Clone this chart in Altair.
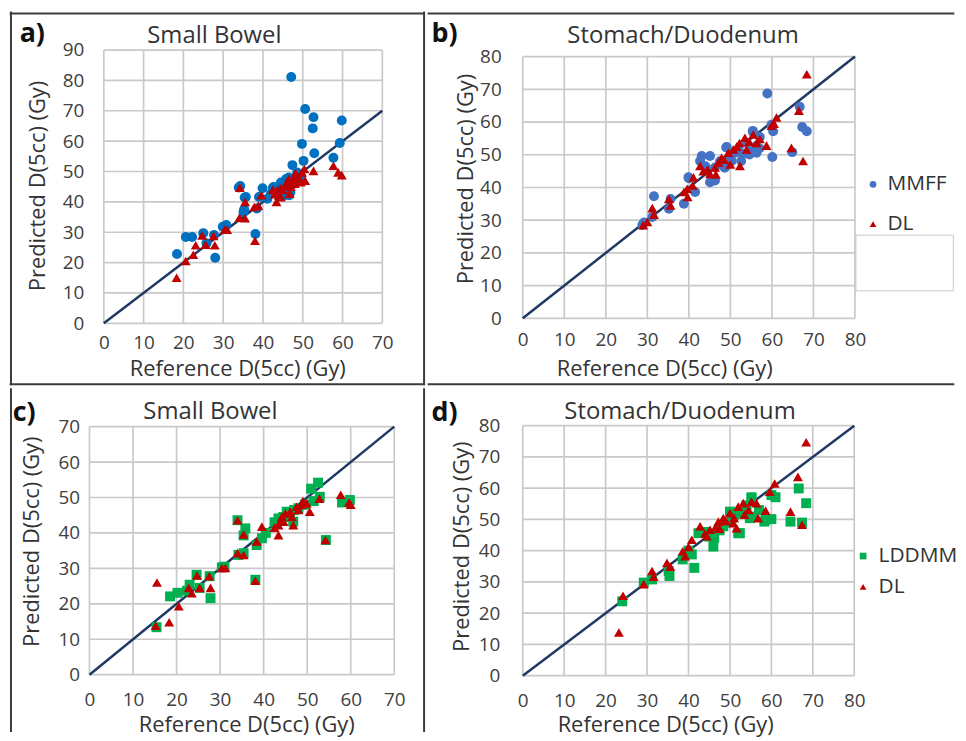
import altair as alt
import pandas as pd

# ---------------- data ----------------
a_mmff_ref = [47.1, 50.6, 52.7, 52.5, 59.8, 49.8, 59.3, 52.9, 57.7, 50.2, 47.4, 39.9, 34.3, 35.7, 35.3, 39.0,
              38.5, 42.8, 46.9, 38.1, 30.8, 29.9, 25.0, 22.2, 20.6, 27.7, 28.0, 18.4, 25.8, 44.5, 45.8, 46.5,
              48.6, 47.0, 42.0, 41.1, 45.3, 48.0, 44.0, 46.0, 49.5, 43.5, 42.5, 43.0, 35.4, 35.1, 33.9, 46.6]
a_mmff_pred = [81.1, 70.6, 67.9, 64.2, 66.8, 59.1, 59.4, 56.0, 54.5, 53.5, 52.1, 44.5, 45.2, 41.6, 37.6, 41.6,
               37.8, 44.9, 43.2, 29.4, 32.4, 31.8, 29.7, 28.4, 28.4, 29.1, 21.6, 22.8, 26.4, 46.4, 47.5, 48.0,
               49.7, 47.0, 42.7, 41.0, 42.1, 46.0, 44.0, 45.5, 48.5, 43.0, 44.7, 43.0, 41.4, 36.7, 44.7, 42.2]
a_dl_ref = [18.3, 20.6, 22.5, 23.1, 24.7, 25.6, 27.6, 27.9, 30.4, 31.0, 34.2, 35.5, 34.1, 35.5, 37.8, 38.8,
            39.6, 38.0, 43.4, 43.6, 44.4, 45.7, 46.7, 47.7, 49.0, 49.8, 50.6, 50.4, 52.7, 57.7, 58.9, 59.8,
            44.0, 45.0, 46.0, 47.0, 48.0, 48.5, 44.5, 43.0, 49.5, 46.5, 42.5, 48.2]
a_dl_pred = [15.0, 20.5, 22.6, 25.7, 28.9, 25.9, 28.8, 25.7, 30.8, 30.8, 44.7, 40.0, 34.8, 34.6, 38.3, 38.7,
             42.2, 27.2, 40.0, 43.8, 44.5, 45.4, 42.7, 47.5, 48.1, 49.7, 47.0, 50.8, 50.2, 51.9, 49.7, 48.8,
             42.0, 44.0, 46.5, 45.0, 46.0, 48.5, 41.5, 42.5, 46.5, 47.5, 44.0, 49.5]

b_mmff_ref = [58.9, 66.7, 67.3, 68.4, 64.9, 60.1, 60.3, 59.9, 57.1, 55.4, 56.3, 55.1, 49.1, 51.1, 48.7, 45.1,
              43.1, 42.7, 46.3, 45.1, 46.3, 40.0, 41.5, 38.8, 35.6, 35.2, 31.6, 31.2, 29.2, 28.8, 50.3, 49.0,
              53.0, 52.6, 55.4, 56.2, 54.6, 48.6, 39.9, 44.0, 47.5, 52.0, 50.0, 54.0, 57.0]
b_mmff_pred = [68.7, 64.7, 58.5, 57.2, 50.8, 49.3, 57.2, 59.2, 55.4, 57.0, 50.6, 51.1, 52.4, 50.6, 46.1, 49.6,
               49.6, 48.1, 46.1, 41.6, 42.1, 42.8, 38.6, 35.0, 36.5, 33.5, 37.3, 31.0, 29.3, 28.5, 48.1, 52.2,
               50.2, 48.1, 57.3, 52.7, 50.1, 46.1, 43.1, 46.5, 48.0, 51.5, 49.5, 53.5, 52.0]
b_dl_ref = [68.4, 66.5, 67.5, 64.7, 61.1, 59.9, 58.7, 57.1, 55.5, 53.5, 52.2, 52.3, 50.7, 49.5, 47.9, 47.1,
            46.3, 45.1, 42.7, 41.1, 40.9, 39.6, 38.8, 39.7, 35.2, 35.6, 31.2, 31.6, 30.0, 29.0, 56.3, 53.9,
            44.5, 46.5, 48.5, 51.5, 54.5, 50.0, 60.5, 43.5]
b_dl_pred = [74.6, 63.5, 48.1, 52.1, 61.4, 58.9, 52.8, 54.8, 56.2, 55.2, 53.6, 46.6, 51.6, 50.6, 49.1, 47.6,
             46.1, 44.1, 46.6, 43.1, 40.6, 39.6, 38.6, 37.1, 36.5, 34.5, 33.7, 31.7, 29.5, 28.5, 53.6, 51.6,
             45.5, 44.0, 48.5, 52.5, 54.0, 47.0, 59.5, 45.0]

c_lddmm_ref = [52.5, 50.9, 52.9, 59.8, 58.0, 34.0, 35.8, 35.4, 54.3, 46.8, 43.4, 45.3, 39.6, 38.4, 35.4, 34.2,
               30.4, 24.6, 23.0, 22.4, 20.2, 18.5, 27.8, 27.6, 38.1, 15.4, 25.3, 48.0, 49.5, 44.5, 47.0, 51.5,
               42.5, 46.0, 40.5, 31.0]
c_lddmm_pred = [54.2, 52.5, 50.2, 49.3, 48.6, 43.6, 41.3, 39.3, 38.0, 43.2, 44.1, 46.0, 38.5, 36.6, 34.3, 33.8,
                30.3, 28.2, 25.4, 23.7, 23.1, 22.1, 21.6, 27.8, 26.8, 13.4, 24.5, 47.0, 48.0, 44.5, 46.5, 49.0,
                43.0, 45.0, 40.0, 30.5]
c_dl_ref = [15.5, 18.3, 15.2, 20.5, 22.8, 25.3, 27.8, 27.5, 24.7, 30.4, 31.2, 34.0, 35.4, 34.0, 35.4, 38.1,
            38.4, 39.6, 43.4, 43.4, 44.6, 46.8, 46.1, 47.6, 48.7, 49.9, 50.6, 52.8, 57.7, 59.6, 60.0, 54.2,
            44.2, 45.0, 46.5, 48.0, 42.5, 49.0, 44.0, 23.5]
c_dl_pred = [26.0, 14.8, 13.8, 19.3, 24.5, 24.5, 24.5, 27.8, 28.0, 30.1, 30.1, 34.3, 33.8, 43.6, 39.6, 26.5,
             37.6, 41.8, 39.4, 42.2, 43.2, 42.2, 46.0, 47.4, 47.9, 48.3, 46.0, 49.7, 50.8, 48.6, 48.0, 38.0,
             44.6, 45.5, 44.5, 46.5, 41.5, 49.0, 43.5, 23.0]

d_lddmm_ref = [66.6, 68.4, 67.4, 64.6, 61.0, 60.0, 60.0, 58.6, 55.2, 54.8, 52.4, 50.0, 48.4, 46.2, 42.4, 41.4,
               40.8, 38.6, 35.4, 35.2, 31.2, 29.2, 24.0, 46.0, 52.0, 55.6, 58.3, 55.2, 51.0, 49.0, 44.0, 47.5,
               53.0, 57.0, 40.0, 50.5, 45.0, 54.0]
d_lddmm_pred = [59.9, 55.2, 49.0, 49.3, 57.1, 57.8, 50.1, 49.9, 57.1, 50.4, 45.6, 52.5, 47.8, 44.1, 45.6, 34.5,
                38.8, 37.2, 31.9, 33.5, 30.8, 29.8, 23.8, 41.3, 45.6, 50.9, 49.3, 56.7, 51.5, 49.0, 46.0, 46.5,
                52.0, 53.0, 40.0, 50.5, 44.5, 54.5]
d_dl_ref = [68.4, 66.4, 67.4, 64.6, 60.8, 59.6, 58.6, 56.8, 56.4, 55.2, 53.2, 52.0, 51.6, 50.0, 48.4, 47.2,
            45.2, 42.8, 44.4, 40.8, 40.0, 38.6, 39.2, 34.8, 35.6, 31.2, 31.6, 29.2, 24.2, 23.2, 50.8, 46.5,
            49.0, 53.5, 44.0, 47.5, 51.0, 54.5]
d_dl_pred = [74.7, 63.6, 48.3, 52.5, 61.5, 58.9, 52.8, 50.4, 55.2, 55.7, 55.2, 54.1, 47.2, 52.0, 50.4, 49.3,
             46.7, 47.8, 44.6, 43.5, 41.2, 39.8, 38.2, 36.1, 34.9, 33.5, 31.7, 29.3, 25.6, 13.8, 48.8, 47.5,
             49.5, 51.5, 45.5, 47.0, 50.5, 53.0]

panel_labels = ["a)", "b)", "c)", "d)"]
panel_titles = ["Small Bowel", "Stomach/Duodenum", "Small Bowel", "Stomach/Duodenum"]
x_title = "Reference D(5cc) (Gy)"
y_title = "Predicted D(5cc) (Gy)"

# ---------------- styling ----------------
FONT = "Open Sans"
GRID = "#c9c9c9"
DIAG = "#1f3864"
BORDER = "#3c3c3c"
LABEL_C = "#404040"
TEXT_C = "#333333"


def one_row():
    return alt.Data(values=[{"k": 0}])


def panel(series, names, colors, shapes, xmax, ymax, vw, vh, xr, yr, bnd, rules, lab_pos, title_pos,
          xt, yt, xlp, ylp, legend=None, box=None, label=None, title=None):
    rows = []
    for (refs, preds), nm in zip(series, names):
        for r, p in zip(refs, preds):
            rows.append({"ref": r, "pred": p, "method": nm})
    df = pd.DataFrame(rows)

    xs = alt.Scale(domain=[0, xmax], range=list(xr), nice=False)
    ys = alt.Scale(domain=[0, ymax], range=list(yr), nice=False)
    common = dict(grid=False, domain=False, ticks=False, tickSize=0,
                  labelFont=FONT, labelFontSize=19, labelColor=LABEL_C, labelFlush=False,
                  labelOverlap=False, titleFont=FONT, titleFontSize=22, titleFontWeight="normal",
                  titleColor=TEXT_C, titleAlign="center", titleBaseline="middle")
    xticks = list(range(0, xmax + 1, 10))
    yticks = list(range(0, ymax + 1, 10))
    xaxis = alt.Axis(values=xticks, title=x_title, labelPadding=xlp,
                     titleX=xt[0], titleY=xt[1], titleAngle=0, **common)
    yaxis = alt.Axis(values=yticks, title=y_title, labelPadding=ylp,
                     titleX=yt[0], titleY=yt[1], titleAngle=270, **common)
    X = alt.X("ref:Q", scale=xs, axis=xaxis)
    Y = alt.Y("pred:Q", scale=ys, axis=yaxis)

    layers = []
    # invisible panel bounds
    layers.append(alt.Chart(one_row()).mark_rect(opacity=0, strokeWidth=0).encode(
        x=alt.value(bnd[0]), x2=alt.value(bnd[1]), y=alt.value(bnd[2]), y2=alt.value(bnd[3])))
    # frame lines
    for (x1, x2, y1, y2) in rules:
        layers.append(alt.Chart(one_row()).mark_rule(color=BORDER, strokeWidth=2).encode(
            x=alt.value(x1), x2=alt.value(x2), y=alt.value(y1), y2=alt.value(y2)))
    # gridlines (through the scales)
    vgrid = pd.DataFrame({"ref": xticks, "pred": [0] * len(xticks), "pred2": [ymax] * len(xticks)})
    hgrid = pd.DataFrame({"pred": yticks, "ref": [0] * len(yticks), "ref2": [xmax] * len(yticks)})
    layers.append(alt.Chart(vgrid).mark_rule(color=GRID, strokeWidth=1.7).encode(
        x=X, y=Y, y2="pred2:Q"))
    layers.append(alt.Chart(hgrid).mark_rule(color=GRID, strokeWidth=1.7).encode(
        x=X, x2="ref2:Q", y=Y))
    # identity line
    m = min(xmax, ymax)
    layers.append(alt.Chart(pd.DataFrame({"ref": [0, m], "pred": [0, m]})).mark_line(
        color=DIAG, strokeWidth=2.5).encode(x=X, y=Y))
    # points
    leg = None
    if legend is not None:
        leg = alt.Legend(orient="none", legendX=legend[0], legendY=legend[1], title=None,
                         labelFont=FONT, labelFontSize=21, labelColor=TEXT_C, labelOffset=legend[2],
                         rowPadding=legend[3], symbolSize=45, symbolStrokeWidth=0, padding=0, offset=0)
    layers.append(alt.Chart(df).mark_point(filled=True, opacity=1, size=100, strokeWidth=0).encode(
        x=X, y=Y,
        color=alt.Color("method:N", scale=alt.Scale(domain=names, range=colors), legend=leg),
        shape=alt.Shape("method:N", scale=alt.Scale(domain=names, range=shapes), legend=leg)))
    if box is not None:
        layers.append(alt.Chart(one_row()).mark_rect(fill="white", stroke="#c8c8c8", strokeWidth=1).encode(
            x=alt.value(box[0]), x2=alt.value(box[1]), y=alt.value(box[2]), y2=alt.value(box[3])))
    # panel label and title
    layers.append(alt.Chart(one_row()).mark_text(
        text=label, font=FONT, fontSize=27, fontWeight="bold", color="#111111",
        align="left", baseline="alphabetic").encode(x=alt.value(lab_pos[0]), y=alt.value(lab_pos[1])))
    layers.append(alt.Chart(one_row()).mark_text(
        text=title, font=FONT, fontSize=24, color=TEXT_C, align="center", baseline="middle").encode(
        x=alt.value(title_pos[0]), y=alt.value(title_pos[1])))

    return alt.layer(*layers).properties(width=vw, height=vh)


# view origins: column 1 x=88.3, column 2 x=521.7 ; row 1 y=46.7, row 2 y=421.7
pa = panel([(a_mmff_ref, a_mmff_pred), (a_dl_ref, a_dl_pred)], ["MMFF", "DL"], ["#0070c0", "#c00000"],
           ["circle", "triangle-up"], 70, 90, 294.7, 275, (14.4, 294.7), (275, 0),
           bnd=(-80.3, 337.7, -38.7, 337.3),
           rules=[(-80.3, 337.7, -36.7, -36.7), (-79.0, -79.0, -38.7, 337.3),
                  (336.7, 336.7, -38.7, 337.3), (-80.3, 337.7, 336.3, 336.3)],
           lab_pos=(-70.3, -7.7), title_pos=(125.7, -13.7), xt=(148.7, 45.3), yt=(-52.3, 136.3),
           xlp=10, ylp=5.6, label=panel_labels[0], title=panel_titles[0])

pb = panel([(b_mmff_ref, b_mmff_pred), (b_dl_ref, b_dl_pred)], ["MMFF", "DL"], ["#4472c4", "#c00000"],
           ["circle", "triangle-up"], 80, 80, 334.3, 270, (0, 334.3), (270, 6.6),
           bnd=(-95.7, 434.3, -38.7, 337.3),
           rules=[(-95.7, 434.3, -36.7, -36.7), (-95.7, 434.3, 336.3, 336.3)],
           lab_pos=(-91.7, -7.7), title_pos=(161.3, -13.7), xt=(142.3, 50.3), yt=(-57.2, 129.3),
           xlp=12, ylp=21.7, legend=(342, 124.7, 4, 18), box=(335.3, 433.3, 186.3, 242.3),
           label=panel_labels[1], title=panel_titles[1])

pc = panel([(c_lddmm_ref, c_lddmm_pred), (c_dl_ref, c_dl_pred)], ["LDDMM", "DL"], ["#00b050", "#c00000"],
           ["square", "triangle-up"], 70, 70, 306.7, 250.6, (0, 306.7), (250.6, 1.0),
           bnd=(-80.3, 337.7, -37.7, 308.3),
           rules=[(-79.0, -79.0, -37.7, 308.3), (336.7, 336.7, -37.7, 308.3)],
           lab_pos=(-77.3, -4.7), title_pos=(121.7, -14.2), xt=(157.7, 50.0), yt=(-58.3, 116.3),
           xlp=16.5, ylp=10, label=panel_labels[2], title=panel_titles[2])

pd_ = panel([(d_lddmm_ref, d_lddmm_pred), (d_dl_ref, d_dl_pred)], ["LDDMM", "DL"], ["#00b050", "#c00000"],
            ["square", "triangle-up"], 80, 80, 333.6, 251.6, (0, 333.6), (251.6, 0),
            bnd=(-95.7, 434.3, -37.7, 308.3),
            rules=[],
            lab_pos=(-91.7, -4.7), title_pos=(158.3, -14.2), xt=(143.3, 49.0), yt=(-61.7, 121.3),
            xlp=16.5, ylp=23, legend=(332, 120.7, 5, 9),
            label=panel_labels[3], title=panel_titles[3])

ind = dict(x="independent", y="independent", color="independent", shape="independent")
chart = alt.concat(pa, pb, pc, pd_, columns=2, spacing=0, bounds="full").resolve_scale(
    **ind).resolve_legend(color="independent", shape="independent").properties(
    padding=0, background="white").configure_view(strokeWidth=0)

chart.save("out.html", embed_options={"renderer": "svg", "actions": False})
